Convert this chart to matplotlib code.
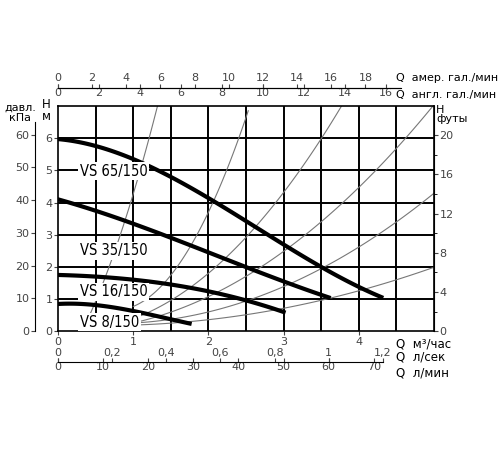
import numpy as np
import matplotlib
matplotlib.use("Agg")
import matplotlib.pyplot as plt

pumps = ["VS 65/150", "VS 35/150", "VS 16/150", "VS 8/150"]
pump_q = [
    [0, 0.5, 1, 1.5, 2, 2.5, 3, 3.5, 4, 4.3],
    [0, 0.5, 1, 1.5, 2, 2.5, 3, 3.6],
    [0, 0.5, 1, 1.5, 2, 2.5, 3],
    [0, 0.5, 1, 1.5, 1.75],
]
pump_h = [
    [6.0, 5.75, 5.3, 4.8, 4.2, 3.45, 2.7, 1.95, 1.35, 1.1],
    [4.1, 3.75, 3.35, 2.9, 2.45, 2.0, 1.55, 1.05],
    [1.75, 1.7, 1.6, 1.45, 1.25, 0.95, 0.6],
    [0.85, 0.8, 0.65, 0.35, 0.25],
]
label_pos = [(0.29, 4.97), (0.29, 2.5), (0.29, 1.22), (0.29, 0.28)]

sys_q = [
    [0.43, 0.75, 1.07, 1.33],
    [1.0, 1.49, 2.12, 2.53],
    [1.0, 1.8, 2.56, 3.77],
    [1.0, 2.56, 3.5, 5.0],
    [1.0, 2.56, 4.0, 5.0],
    [1.0, 2.56, 4.0, 5.0],
]
sys_h = [
    [0.6, 2.3, 5.0, 7.0],
    [0.66, 2.0, 4.0, 7.0],
    [0.4, 1.4, 3.1, 7.0],
    [0.3, 1.6, 3.6, 7.0],
    [0.25, 1.0, 2.6, 4.3],
    [0.2, 0.5, 1.3, 1.97],
]

fig = plt.figure(figsize=(5, 4.5), dpi=100)
ax = fig.add_axes([0.116, 0.264, 0.752, 0.5])
ax.set_xlim(0, 5)
ax.set_ylim(0, 7)

for x in np.arange(0.5, 5, 0.5):
    ax.axvline(x, color="black", lw=1.4, zorder=1)
for y in range(1, 7):
    ax.axhline(y, color="black", lw=1.4, zorder=1)

for q, h in zip(sys_q, sys_h):
    c = np.polyfit(q, h, 2)
    xs = np.linspace(q[0], q[-1], 100)
    ax.plot(xs, np.polyval(c, xs), color="#777777", lw=0.8, zorder=2)

for name, q, h, lp in zip(pumps, pump_q, pump_h, label_pos):
    c = np.polyfit(q, h, 3)
    xs = np.linspace(q[0], q[-1], 100)
    ax.plot(xs, np.polyval(c, xs), color="black", lw=3, zorder=3)
    ax.text(lp[0], lp[1], name, fontsize=10.5, fontstretch="condensed",
            ha="left", va="center", zorder=4,
            bbox=dict(facecolor="white", edgecolor="none", pad=1))

for s in ["top", "right", "left", "bottom"]:
    ax.spines[s].set_linewidth(1.2)
ax.set_xticks(np.arange(0, 5, 1))
ax.set_yticks(range(0, 7))
ax.tick_params(labelsize=8, colors="#444444", length=3, pad=1)
ax.text(4.5, -0.4, "Q  м³/час", fontsize=8.5, va="center", ha="left")

# right feet axis
ft = ax.secondary_yaxis("right", functions=(lambda m: m / 0.3048, lambda f: f * 0.3048))
ft.set_yticks([0, 4, 8, 12, 16, 20])
ft.set_yticks([2, 6, 10, 14, 18], minor=True)
ft.tick_params(labelsize=8, colors="#444444", length=3, pad=1)
ax.text(5.03, 7.05, "H\nфуты", fontsize=8, ha="left", va="top", linespacing=0.9)

# left kPa axis
kpa = ax.secondary_yaxis(-0.061, functions=(lambda m: m * 9.81, lambda p: p / 9.81))
kpa.set_yticks([0, 10, 20, 30, 40, 50, 60])
kpa.spines["left"].set_bounds(0, 64)
kpa.tick_params(labelsize=8, colors="#444444", length=3, pad=1)
ax.text(-0.15, 7.25, "H\nм", fontsize=8.5, ha="center", va="top", linespacing=0.9)
ax.text(-0.5, 7.1, "давл.\nкПа", fontsize=8, ha="center", va="top", linespacing=1.0)

# top axes
us = ax.secondary_xaxis(1.08, functions=(lambda q: q * 4.403, lambda g: g / 4.403))
us.set_xticks(range(0, 20, 2))
for s in us.spines.values():
    s.set_bounds(0, 20)
us.tick_params(labelsize=8, colors="#444444", length=3, pad=1)
uk = ax.secondary_xaxis(1.08, functions=(lambda q: q * 3.666, lambda g: g / 3.666))
uk.set_xticks(range(0, 18, 2))
for s in uk.spines.values():
    s.set_bounds(0, 16.7)
uk.xaxis.set_ticks_position("bottom")
uk.tick_params(labelsize=8, colors="#444444", length=3, pad=0, labelbottom=True, labeltop=False, direction="in")
ax.text(4.5, 7.87, "Q  амер. гал./мин", fontsize=8, va="center")
ax.text(4.5, 7.35, "Q  англ. гал./мин", fontsize=8, va="center")

# bottom axes
ls = ax.secondary_xaxis(-0.138, functions=(lambda q: q * 0.27778, lambda l: l / 0.27778))
ls.set_xticks([0, 0.2, 0.4, 0.6, 0.8, 1.0, 1.2])
ls.set_xticklabels(["0", "0,2", "0,4", "0,6", "0,8", "1", "1,2"])
ls.xaxis.set_ticks_position("top")
ls.tick_params(labelsize=8, colors="#444444", length=3, pad=0, labeltop=True, labelbottom=False, top=True, bottom=False)
for s in ls.spines.values():
    s.set_visible(False)
lm = ax.secondary_xaxis(-0.138, functions=(lambda q: q * 16.667, lambda l: l / 16.667))
lm.set_xticks(range(0, 80, 10))
lm.tick_params(labelsize=8, colors="#444444", length=3, pad=0, direction="in")
for s in lm.spines.values():
    s.set_bounds(0, 72)
ax.text(4.5, -0.8, "Q  л/сек", fontsize=8.5, va="center")
ax.text(4.5, -1.3, "Q  л/мин", fontsize=8.5, va="center")

fig.savefig("out.png", dpi=100)
